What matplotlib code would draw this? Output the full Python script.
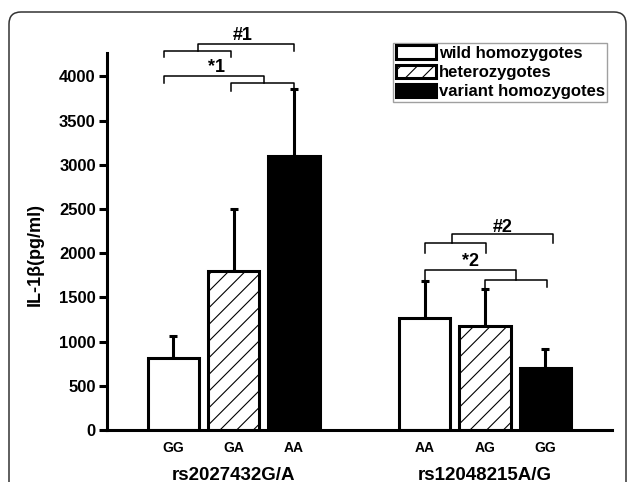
import numpy as np
import matplotlib
matplotlib.use("Agg")
import matplotlib.pyplot as plt
from matplotlib.patches import FancyBboxPatch, Patch
from matplotlib.transforms import IdentityTransform

# data
snp_labels = ['rs2027432G/A', 'rs12048215A/G']
genotypes_1 = ['GG', 'GA', 'AA']
genotypes_2 = ['AA', 'AG', 'GG']
means_1 = [810, 1800, 3100]
sd_1 = [250, 700, 760]
means_2 = [1270, 1180, 700]
sd_2 = [420, 410, 220]
legend_labels = ['wild homozygotes', 'heterozygotes', 'variant homozygotes']
yticks = [0, 500, 1000, 1500, 2000, 2500, 3000, 3500, 4000]

plt.rcParams['font.family'] = ['Liberation Sans', 'DejaVu Sans']
plt.rcParams['font.weight'] = 'bold'
plt.rcParams['hatch.linewidth'] = 0.8

fig = plt.figure(figsize=(6.29, 4.82), dpi=100)
ax = fig.add_axes([0.170, 0.108, 0.803, 0.782])

pos_1 = np.array([0.0, 1.0, 2.0])
pos_2 = np.array([4.17, 5.17, 6.17])
width = 0.85
faces = ['white', 'white', 'black']
hatches = ['', '//', '']

for pos, means, sds in [(pos_1, means_1, sd_1), (pos_2, means_2, sd_2)]:
    ax.errorbar(pos, means, yerr=[np.zeros(len(sds)), sds], fmt='none',
                ecolor='black', elinewidth=2.2, capsize=3, capthick=2.2, zorder=1)
    for i in range(3):
        ax.bar(pos[i], means[i], width=width, color=faces[i], hatch=hatches[i],
               edgecolor='black', linewidth=2.2, zorder=2)


def bracket(x1, x2, y, yl, yr):
    ax.plot([x1, x1, x2, x2], [yl, y, y, yr], color='black', lw=1.1,
            clip_on=False, zorder=3)


# group 1 significance marks
top1 = [m + s for m, s in zip(means_1, sd_1)]
bracket(pos_1[0] - 0.16, pos_1[1] - 0.05, 4287, 4219, 4219)
bracket((pos_1[0] + pos_1[1]) / 2 - 0.1, pos_1[2], 4367, 4287, 4287)
ax.text(1.15, 4468, '#1', ha='center', va='center', fontsize=13, fontweight='bold')
bracket(pos_1[0] - 0.16, pos_1[1] + 0.5, 4005, 3925, 3925)
bracket(pos_1[1] - 0.05, pos_1[2], 3925, 3835, top1[2])
ax.text(0.72, 4100, '*1', ha='center', va='center', fontsize=13, fontweight='bold')

# group 2 significance marks
top2 = [m + s for m, s in zip(means_2, sd_2)]
bracket(pos_2[0], pos_2[1] + 0.02, 2115, 2002, 2002)
bracket((pos_2[0] + pos_2[1]) / 2 - 0.04, pos_2[2] + 0.13, 2217, 2115, 2115)
ax.text(5.47, 2296, '#2', ha='center', va='center', fontsize=13, fontweight='bold')
bracket(pos_2[0], pos_2[1] + 0.52, 1810, top2[0], 1697)
bracket(pos_2[1], pos_2[2] + 0.03, 1697, top2[1], 1618)
ax.text(4.93, 1905, '*2', ha='center', va='center', fontsize=13, fontweight='bold')

ax.set_xlim(-1.105, 7.28)
ax.set_ylim(0, 4265)
ax.set_yticks(yticks)
ax.set_yticklabels([str(t) for t in yticks], fontsize=12, fontweight='bold')
ax.set_xticks(list(pos_1) + list(pos_2))
ax.set_xticklabels(genotypes_1 + genotypes_2, fontsize=10, fontweight='bold')
ax.tick_params(axis='x', length=0, pad=8)
ax.tick_params(axis='y', length=6, width=2.2, direction='out', pad=2)
for s in ['top', 'right']:
    ax.spines[s].set_visible(False)
for s in ['left', 'bottom']:
    ax.spines[s].set_linewidth(2.2)

# group labels and y label
for pos, lab in [(pos_1, snp_labels[0]), (pos_2, snp_labels[1])]:
    ax.text(pos.mean(), -510, lab, ha='center', va='center', fontsize=13.5,
            fontweight='bold', clip_on=False)
fig.text(35 / 629, 1 - 255 / 482, 'IL-1\u03b2(pg/ml)', rotation=90, ha='center',
         va='center', fontsize=13, fontweight='bold')

handles = [Patch(facecolor=faces[i], edgecolor='black', hatch=hatches[i], linewidth=2.2)
           for i in range(3)]
leg = fig.legend(handles, legend_labels, loc='upper left',
                 bbox_to_anchor=(393 / 629, 1 - 43 / 482), fontsize=12,
                 frameon=True, fancybox=False, borderpad=0.15, borderaxespad=0,
                 handlelength=2.4, handleheight=0.85, handletextpad=0.2,
                 labelspacing=0.22)
leg.get_frame().set_edgecolor('#888888')
leg.get_frame().set_linewidth(1.0)
for t in leg.get_texts():
    t.set_fontweight('bold')

# rounded outer frame
frame = FancyBboxPatch((9, -30), 617, 470 + 30, boxstyle='round,pad=0,rounding_size=12',
                       transform=IdentityTransform(), fill=False, edgecolor='#333333',
                       linewidth=1.1)
fig.patches.append(frame)

fig.savefig('out.png', dpi=100)
